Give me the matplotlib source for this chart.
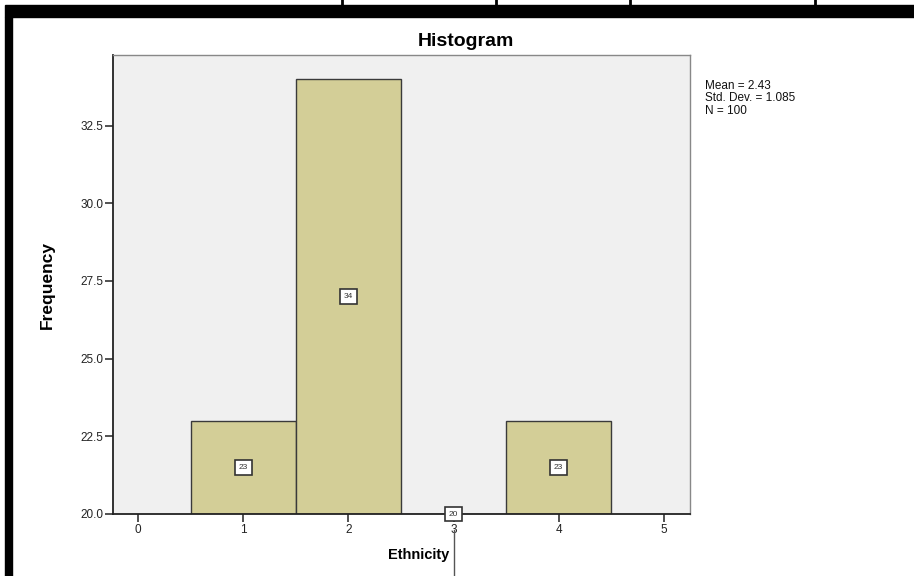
import matplotlib.pyplot as plt
from matplotlib.lines import Line2D
from matplotlib.patches import Rectangle

plt.rcParams['font.family'] = ['Liberation Sans', 'DejaVu Sans']

ethnicity = [1, 2, 3, 4]
counts = [23, 34, 20, 23]
x_ticks = [0, 1, 2, 3, 4, 5]
y_ticks = [20.0, 22.5, 25.0, 27.5, 30.0, 32.5]
stats_text = 'Mean = 2.43\nStd. Dev. = 1.085\nN = 100'

fig = plt.figure(figsize=(9.14, 5.76), dpi=100)
W, H = 914, 576
ax = fig.add_axes([113 / W, 1 - 514 / H, (690 - 113) / W, (514 - 55) / H])
ax.set_facecolor('#f0f0f0')

base = 20
ax.bar(ethnicity, [c - base for c in counts], bottom=base, width=1.0,
       color='#d3ce97', edgecolor='#3a3a3a', linewidth=1.0, zorder=2)
for x, c in zip(ethnicity, counts):
    ax.text(x, (base + c) / 2, str(c), ha='center', va='center', fontsize=6,
            color='#333333', zorder=5, clip_on=False,
            bbox=dict(boxstyle='square,pad=0.45', fc='white', ec='#333333', lw=1.2))

ax.set_xlim(-0.24, 5.25)
ax.set_ylim(20, 34.77)
ax.set_xticks(x_ticks)
ax.set_yticks(y_ticks)
ax.set_yticklabels(['%.1f' % v for v in y_ticks])
ax.tick_params(axis='both', direction='out', length=6, width=1.2, labelsize=8.5,
               colors='#333333', labelcolor='#222222')
ax.tick_params(axis='x', pad=1)
ax.tick_params(axis='y', pad=1)
for side in ['top', 'right']:
    ax.spines[side].set_color('#888888')
    ax.spines[side].set_linewidth(1.0)
for side in ['left', 'bottom']:
    ax.spines[side].set_color('#222222')
    ax.spines[side].set_linewidth(1.3)

fig.text(466 / W, 1 - 42 / H, 'Histogram', fontsize=14, fontweight='bold',
         ha='center', va='center')
fig.text(419 / W, 1 - 555 / H, 'Ethnicity', fontsize=10.5, fontweight='bold',
         ha='center', va='center')
fig.text(47 / W, 1 - 285 / H, 'Frequency', fontsize=12.5, fontweight='bold',
         ha='center', va='center', rotation=90)

fig.text(705 / W, 1 - 80 / H, stats_text, fontsize=8.5, va='top', ha='left',
         linespacing=1.05, color='#111111')

# page frame bits around the chart
fig.patches.append(Rectangle((5 / W, 1 - 17 / H), 1, 12 / H, transform=fig.transFigure,
                             color='black', zorder=10))
fig.patches.append(Rectangle((5 / W, 0), 7 / W, 1 - 17 / H, transform=fig.transFigure,
                             color='black', zorder=10))
for xp in [342, 496, 630, 815]:
    fig.lines.append(Line2D([xp / W, xp / W], [1 - 6 / H, 1], transform=fig.transFigure,
                            color='black', lw=2))
fig.lines.append(Line2D([454 / W, 454 / W], [0, 1 - 530 / H], transform=fig.transFigure,
                        color='#555555', lw=1))

fig.savefig('out.png', dpi=100)
